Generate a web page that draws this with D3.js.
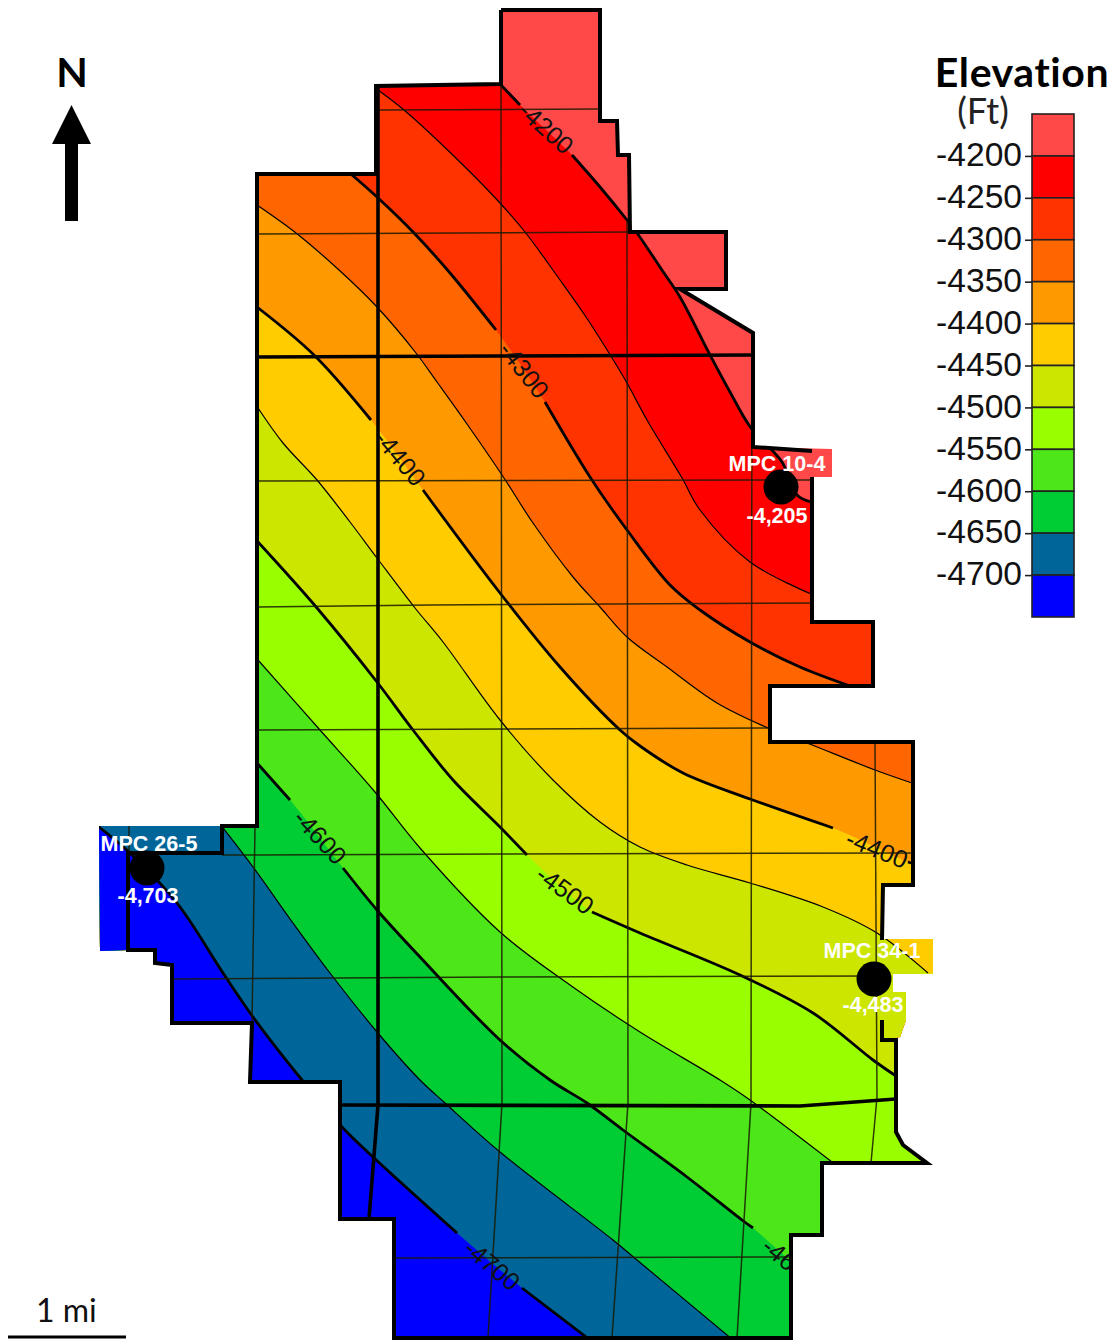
<!DOCTYPE html>
<html>
<head>
<meta charset="utf-8">
<script src="https://cdn.jsdelivr.net/npm/d3@7"></script>
<style>
  html, body { margin: 0; padding: 0; background: #fff; }
  svg { display: block; }
  text { font-family: "Liberation Sans", Arial, sans-serif; }
</style>
</head>
<body>
<div id="chart"></div>
<script>
// elevation contours in ft (grid units, null = gap for the label)
const elevTicks = [-4200, -4250, -4300, -4350, -4400, -4450, -4500, -4550, -4600, -4650, -4700];
const bandColors = ['#0000ff', '#006699', '#00cc33', '#4ce619', '#99ff00', '#cce600', '#ffcc00', '#ff9900', '#ff6600', '#ff3300', '#ff0000', '#ff4848'];

const contour4200 = [[500,84],[520,105],null,[572,155],[600,187],[627,220],[637,233],[664,273],[680,297],[709,353],[730,392],[751,428],[782,462],[797,495],[811,502]];
const contour4250 = [[378,90],[404,110],[461,163],[500,203],[525,232],[560,280],[586,317],[609,353],[627,383],[647,420],[682,478],[700,510],[750,562],[811,594]];
const contour4300 = [[352,175],[377,197],[414,233],[450,273],[496,330],null,[545,402],[590,477],[627,530],[670,585],[700,610],[750,642],[800,667],[850,686]];
const contour4350 = [[257,205],[296,233],[339,270],[377,307],[416,353],[437,382],[467,424],[502,475],[533,523],[573,577],[600,607],[627,637],[667,667],[717,703],[768,728],[807,743],[875,770],[912,783]];
const contour4400 = [[257,307],[314,355],[371,420],null,[423,490],[500,593],[560,667],[620,730],[640,746],[683,773],[750,799],[833,828],null,[908,862],[914,864]];
const contour4450 = [[258,408],[283,443],[317,480],[350,522],[377,558],[415,608],[443,642],[500,720],[553,780],[600,822],[640,847],[687,865],[750,883],[823,907],[877,933],[928,973]];
const contour4500 = [[258,542],[317,608],[377,682],[413,730],[453,780],[500,827],[527,855],null,[592,912],[640,933],[740,975],[813,1013],[873,1060],[896,1076]];
const contour4550 = [[258,660],[320,730],[375,792],[420,848],[500,932],[570,985],[640,1032],[720,1080],[750,1100],[832,1162]];
const contour4600 = [[257,763],[290,800],null,[343,868],[377,910],[420,957],[500,1040],[550,1080],[587,1103],[623,1130],[687,1177],[742,1220],[753,1228],null,[800,1270]];
const contour4650 = [[220,824],[253,867],[293,923],[330,973],[377,1032],[420,1080],[445,1103],[500,1152],[613,1240],[637,1260],[733,1340]];
const contour4700 = [[95,824],[130,853],[177,903],[223,973],[253,1017],[302,1080],[342,1127],[373,1157],[457,1233],null,[522,1288],[590,1340]];
const contours = [contour4200, contour4250, contour4300, contour4350, contour4400, contour4450, contour4500, contour4550, contour4600, contour4650, contour4700];

// contour labels: elevation text, centre and rotation
const labelTexts = ['-4200', '-4300', '-4400', '-4400', '-4500', '-4600', '-4700', '-4600'];
const labelX = [546, 524, 400, 877, 565, 320, 492, 790];
const labelY = [128, 370, 458, 849, 890, 837, 1265, 1263];
const labelAngle = [42, 52, 50, 22, 36, 47, 40, 40];

// lease boundary
const boundary = [[501,10],[600,10],[600,121],[617,121],[618,155],[629,155],[630,232],[726,232],[726,289],[680,289],[753,333],[753,447],[812,451],null,[812,477],[812,622],[873,622],[873,686],[770,686],[770,742],[913,742],[913,885],[883,885],[882,940],null,[882,1020],[882,1040],[896,1040],[896,1132],[903,1145],[927,1163],[822,1163],[822,1235],[791,1235],[791,1338],[394,1338],[394,1219],[340,1219],[340,1082],[250,1082],[252,1023],[172,1023],[172,965],[155,963],[155,950],[128,950],[128,853],[222,853],[222,826],[257,826],[257,174],[376,174],[376,86],[501,84],[501,10]];
// coloured patches behind the well labels
const patch104 = [[753,447],[832,449],[832,477],[753,477]];
const patch341 = [[882,939],[933,939],[933,974],[893,974],[893,992],[906,992],[906,1020],[900,1037],[882,1040]];
const patch265 = [[99,826],[222,826],[222,853],[128,853],[128,950],[100,951]];

// section lines
const thinLines = [
  [[378,110],[600,109]],
  [[257,234],[630,232]],
  [[257,481],[812,480]],
  [[257,607],[430,605],[812,603]],
  [[257,730],[770,728]],
  [[222,855],[500,854],[913,853]],
  [[172,979],[500,977],[882,976]],
  [[394,1258],[791,1257]],
  [[501,84],[502,1103],[488,1338]],
  [[627,220],[628,1103],[612,1338]],
  [[752,333],[751,1103],[737,1338]],
  [[875,742],[877,1097],[871,1163]],
  [[129,826],[129,855]],
  [[255,826],[252,1023]]
];
const thickLines = [
  [[257,357],[500,356],[753,355]],
  [[378,88],[378,1105],[369,1219]],
  [[340,1105],[800,1106],[896,1099]]
];

const wellNames = ['MPC 10-4', 'MPC 26-5', 'MPC 34-1'];
const wellValues = ['-4,205', '-4,703', '-4,483'];
const wellX = [781, 147, 874];
const wellY = [487, 868, 979];
const nameX = [777, 149, 872];
const nameY = [471, 851, 958];
const valueX = [777, 148, 873];
const valueY = [523, 903, 1012];

const northArrow = [[71.5,105],[91,144],[78,144],[78,221],[65,221],[65,144],[52,144]];

const width = 1120, height = 1343;
const svg = d3.select('#chart').append('svg').attr('width', width).attr('height', height);

const x = d3.scaleLinear().domain([0, 1120]).range([0, width]);
const y = d3.scaleLinear().domain([0, 1343]).range([0, height]);
const bandColor = d3.scaleThreshold().domain(elevTicks.slice().reverse()).range(bandColors);

const rough = d3.line().defined(d => d).x(d => x(d[0])).y(d => y(d[1]));
const smooth = d3.line().defined(d => d).x(d => x(d[0])).y(d => y(d[1])).curve(d3.curveCatmullRom.alpha(0.5));
const solid = pts => pts.filter(d => d);

const defs = svg.append('defs');
const clip = defs.append('clipPath').attr('id', 'map-clip');
[solid(boundary), patch104, patch341, patch265].forEach(p => {
  clip.append('path').attr('d', rough(p) + 'Z');
});

const map = svg.append('g').attr('clip-path', 'url(#map-clip)');

// painter style bands: each contour paints everything to the south west of it
map.append('rect').attr('width', width).attr('height', height).attr('fill', bandColor(-4100));
contours.forEach((c, i) => {
  const pts = solid(c);
  const first = pts[0], last = pts[pts.length - 1];
  const d = smooth(pts) + `L${width},${y(last[1])}L${width},${height}L0,${height}L0,${y(first[1])}Z`;
  map.append('path').attr('d', d).attr('fill', bandColor(elevTicks[i] - 1));
});

// contour lines, every 100 ft heavier
contours.forEach((c, i) => {
  const major = elevTicks[i] % 100 === 0;
  map.append('path')
    .attr('d', smooth(c))
    .attr('fill', 'none')
    .attr('stroke', '#000')
    .attr('stroke-width', major ? 2.8 : 1.2);
});

thinLines.forEach(l => {
  map.append('path').attr('d', rough(l)).attr('fill', 'none')
    .attr('stroke', '#1a1a00').attr('stroke-width', 1.5).attr('stroke-opacity', 0.85);
});
thickLines.forEach(l => {
  map.append('path').attr('d', rough(l)).attr('fill', 'none')
    .attr('stroke', '#000').attr('stroke-width', 3.6);
});

labelTexts.forEach((t, i) => {
  map.append('text')
    .attr('transform', `translate(${x(labelX[i])},${y(labelY[i])}) rotate(${labelAngle[i]})`)
    .attr('text-anchor', 'middle')
    .attr('dy', '.35em')
    .attr('font-size', 25)
    .attr('fill', '#111')
    .text(t);
});

svg.append('path')
  .attr('d', rough(boundary))
  .attr('fill', 'none')
  .attr('stroke', '#000')
  .attr('stroke-width', 4)
  .attr('stroke-linejoin', 'miter');

// wells
wellNames.forEach((name, i) => {
  svg.append('circle').attr('cx', x(wellX[i])).attr('cy', y(wellY[i])).attr('r', 17.5).attr('fill', '#000');
  svg.append('text').attr('x', x(nameX[i])).attr('y', y(nameY[i]))
    .attr('text-anchor', 'middle').attr('font-size', 21.5).attr('font-weight', 'bold').attr('fill', '#fff').text(name);
  svg.append('text').attr('x', x(valueX[i])).attr('y', y(valueY[i]))
    .attr('text-anchor', 'middle').attr('font-size', 21.5).attr('font-weight', 'bold').attr('fill', '#fff').text(wellValues[i]);
});

// north arrow and scale bar
svg.append('text').attr('x', 72).attr('y', 87).attr('text-anchor', 'middle')
  .attr('font-size', 41).attr('font-weight', 'bold').style('font-family', 'Lato, sans-serif').text('N');
svg.append('path').attr('d', rough(northArrow) + 'Z').attr('fill', '#000');

svg.append('text').attr('x', 36).attr('y', 1322)
  .attr('font-size', 32).style('font-family', 'Lato, sans-serif').attr('fill', '#111').text('1 mi');
svg.append('line').attr('x1', 8).attr('x2', 126).attr('y1', 1337).attr('y2', 1337)
  .attr('stroke', '#000').attr('stroke-width', 3);

// legend
const legendY = d3.scaleLinear().domain([-4150, -4750]).range([114, 617]);
const legendEdges = [-4150].concat(elevTicks, [-4750]);
const legend = svg.append('g');
legend.selectAll('rect')
  .data(d3.pairs(legendEdges))
  .enter()
  .append('rect')
  .attr('x', 1032)
  .attr('width', 42)
  .attr('y', d => legendY(d[0]))
  .attr('height', d => legendY(d[1]) - legendY(d[0]))
  .attr('fill', d => bandColor(d[1] + 1))
  .attr('stroke', '#222')
  .attr('stroke-width', 1.6);

const legendAxis = d3.axisLeft(legendY)
  .tickValues(elevTicks)
  .tickSize(7)
  .tickPadding(3)
  .tickFormat(d => String(d));
const axisG = svg.append('g').attr('transform', 'translate(1032,0)').call(legendAxis);
axisG.select('.domain').remove();
axisG.selectAll('.tick line').attr('stroke', '#222').attr('stroke-width', 1.6);
axisG.selectAll('.tick text')
  .attr('font-size', 33.6)
  .attr('dy', '0.29em')
  .style('font-family', '"Liberation Sans", Arial, sans-serif')
  .attr('fill', '#111');

svg.append('text').attr('x', 1022).attr('y', 87).attr('text-anchor', 'middle')
  .attr('font-size', 41).attr('font-weight', 'bold').attr('letter-spacing', 0.6).style('font-family', 'Lato, sans-serif').text('Elevation');
svg.append('text').attr('x', 983).attr('y', 124).attr('text-anchor', 'middle')
  .attr('font-size', 36).style('font-family', 'Lato, sans-serif').attr('fill', '#222').text('(Ft)');
</script>
</body>
</html>
